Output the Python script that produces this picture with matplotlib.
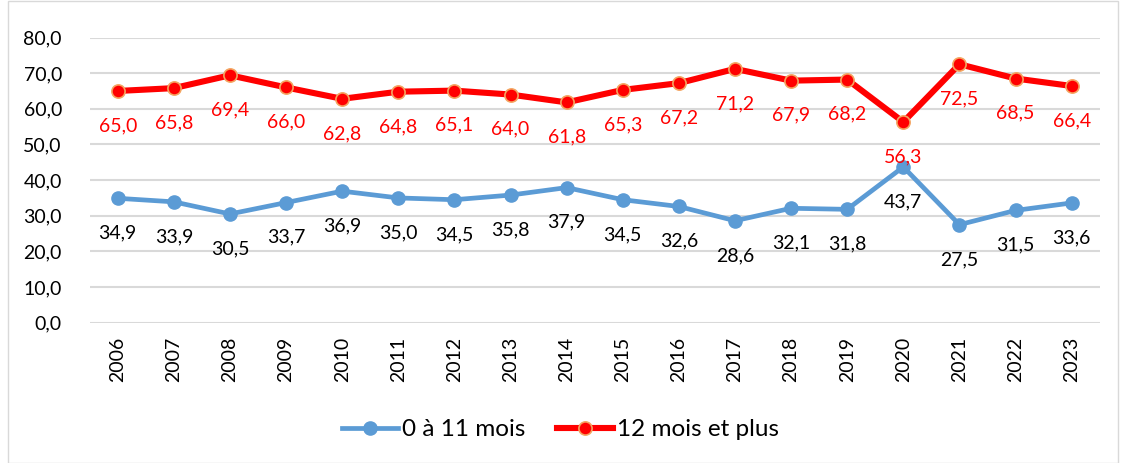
import matplotlib
matplotlib.use("Agg")
import matplotlib.pyplot as plt
from matplotlib.patches import Rectangle

plt.rcParams['font.family'] = ['Lato', 'DejaVu Sans']

years = ['2006', '2007', '2008', '2009', '2010', '2011', '2012', '2013', '2014',
         '2015', '2016', '2017', '2018', '2019', '2020', '2021', '2022', '2023']
young = [34.9, 33.9, 30.5, 33.7, 36.9, 35.0, 34.5, 35.8, 37.9,
         34.5, 32.6, 28.6, 32.1, 31.8, 43.7, 27.5, 31.5, 33.6]
old = [65.0, 65.8, 69.4, 66.0, 62.8, 64.8, 65.1, 64.0, 61.8,
       65.3, 67.2, 71.2, 67.9, 68.2, 56.3, 72.5, 68.5, 66.4]

def fr(v):
    return f"{v:.1f}".replace('.', ',')

fig = plt.figure(figsize=(11.21, 4.63), dpi=100)
ax = fig.add_axes([0.080, 0.303, 0.901, 0.616])

# chart frame
fig.patches.append(Rectangle((0.007, 0.0), 0.99, 0.998, transform=fig.transFigure,
                             fill=False, edgecolor='#d9d9d9', linewidth=1))

x = list(range(len(years)))
ax.plot(x, young, color='#5b9bd5', linewidth=3.4, marker='o', markersize=9.5,
        markerfacecolor='#5b9bd5', markeredgecolor='#5b9bd5', label='0 à 11 mois', zorder=3)
ax.plot(x, old, color='#ff0000', linewidth=4.4, marker='o', markersize=9.5,
        markerfacecolor='#ff0000', markeredgecolor='#f4a460', markeredgewidth=1.2,
        label='12 mois et plus', zorder=3)

for i in x:
    ax.annotate(fr(young[i]), (i, young[i]), xytext=(0, -25), textcoords='offset points',
                ha='center', va='center', fontsize=14, color='black')
    ax.annotate(fr(old[i]), (i, old[i]), xytext=(0, -25), textcoords='offset points',
                ha='center', va='center', fontsize=14, color='#ff0000')

ax.set_xlim(-0.5, len(years) - 0.5)
ax.set_ylim(0, 80)
ax.set_yticks(range(0, 81, 10))
ax.set_yticklabels([fr(v) for v in range(0, 81, 10)], fontsize=14)
ax.set_xticks(x)
ax.set_xticklabels(years, rotation=90, fontsize=14)
ax.tick_params(length=0, pad=10)
ax.tick_params(axis='y', pad=20)
ax.grid(axis='y', color='#d9d9d9', linewidth=1.5)
ax.set_axisbelow(True)
for s in ax.spines.values():
    s.set_visible(False)

fig.legend(loc='center', bbox_to_anchor=(0.5, 0.072), ncol=2, frameon=False,
           fontsize=17.5, handlelength=2.3, columnspacing=1.3, handletextpad=0.15)

fig.savefig('out.png', dpi=100)
